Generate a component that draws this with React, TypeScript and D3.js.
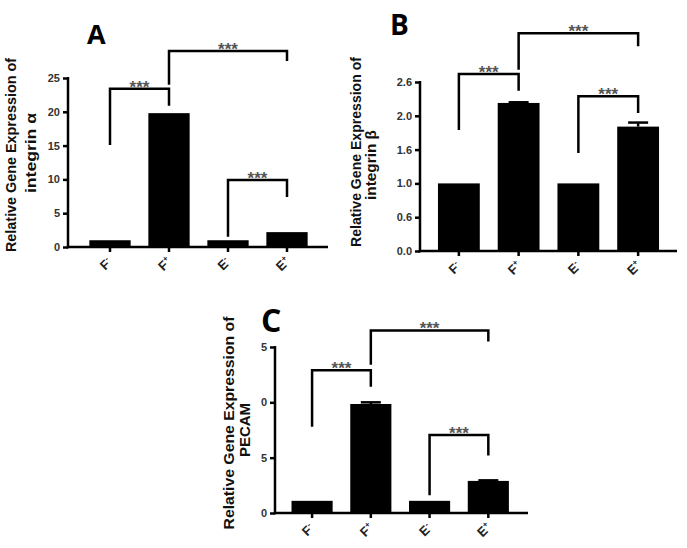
import React, { useEffect, useRef } from 'react';
import * as d3 from 'd3';

// categories shared by the three panels
const categories = ['F', 'F', 'E', 'E'];
const superscripts = ['-', '+', '-', '+'];

// panel A: integrin alpha
const alphaValues = [1.0, 19.8, 1.0, 2.2];
const alphaErrors = [0, 0, 0, 0];
const alphaTicks = [0, 5, 10, 15, 20, 25];
const alphaTickLabels = ['0', '5', '10', '15', '20', '25'];
// [fromIndex, toIndex, bracketY, leftLegEnd, rightLegEnd] in data units
const alphaBrackets = [
  [0, 1, 23.4, 15.1, 20.9],
  [1, 3, 29.0, 24.0, 27.5],
  [2, 3, 9.9, 1.5, 7.4],
];

// panel B: integrin beta
const betaValues = [1.0, 2.19, 1.0, 1.84];
const betaErrors = [0, 0.01, 0, 0.06];
const betaTicks = [0, 0.5, 1.0, 1.5, 2.0, 2.5];
const betaTickLabels = ['0.0', '0.6', '1.0', '1.6', '2.0', '2.6'];
const betaBrackets = [
  [0, 1, 2.62, 1.79, 2.37],
  [1, 3, 3.22, 2.68, 3.03],
  [2, 3, 2.29, 1.45, 2.04],
];

// panel C: PECAM
const pecamValues = [1.1, 9.85, 1.1, 2.9];
const pecamErrors = [0, 0.15, 0, 0.05];
const pecamTicks = [0, 5, 10, 15];
const pecamTickLabels = ['0', '5', '0', '5'];
const pecamBrackets = [
  [0, 1, 12.9, 7.8, 11.4],
  [1, 3, 16.5, 13.4, 15.5],
  [2, 3, 7.05, 1.6, 5.2],
];

const FONT = '"Liberation Sans", Arial, sans-serif';
const NARROW = '"Liberation Sans Narrow", "Liberation Sans", Arial, sans-serif';
const LETTER_FONT = '"Open Sans", "Liberation Sans", sans-serif';

type Title = { x: number; y: number; size: number; len: number; text: string };

type PanelCfg = {
  letter: string;
  letterX: number;
  letterY: number;
  letterSize: number;
  values: number[];
  errors: number[];
  ticks: number[];
  tickLabels: string[];
  brackets: number[][];
  domainMax: number;
  axisX: number;
  axisEnd: number;
  band: [number, number];
  yRange: [number, number];
  title1: Title;
  title2: Title;
};

const panels: PanelCfg[] = [
  {
    letter: 'A', letterX: 87, letterY: 44, letterSize: 27,
    values: alphaValues, errors: alphaErrors, ticks: alphaTicks, tickLabels: alphaTickLabels,
    brackets: alphaBrackets, domainMax: 25,
    axisX: 68, axisEnd: 328, band: [80.5, 316.5], yRange: [247, 78],
    title1: { x: 16, y: 155, size: 14, len: 194, text: 'Relative Gene Expression of' },
    title2: { x: 36, y: 153, size: 15, len: 80, text: 'integrin α' },
  },
  {
    letter: 'B', letterX: 390, letterY: 35, letterSize: 28,
    values: betaValues, errors: betaErrors, ticks: betaTicks, tickLabels: betaTickLabels,
    brackets: betaBrackets, domainMax: 2.5,
    axisX: 420, axisEnd: 677, band: [429, 668], yRange: [251, 82],
    title1: { x: 361, y: 152, size: 14, len: 190, text: 'Relative Gene Expression of' },
    title2: { x: 376, y: 165, size: 14, len: 70, text: 'integrin β' },
  },
  {
    letter: 'C', letterX: 261, letterY: 332, letterSize: 32,
    values: pecamValues, errors: pecamErrors, ticks: pecamTicks, tickLabels: pecamTickLabels,
    brackets: pecamBrackets, domainMax: 15,
    axisX: 275, axisEnd: 528, band: [282.7, 517.7], yRange: [513, 347],
    title1: { x: 234, y: 423, size: 15, len: 213, text: 'Relative Gene Expression of' },
    title2: { x: 250, y: 430, size: 15, len: 54, text: 'PECAM' },
  },
];

const App = () => {
  const svgRef = useRef<SVGSVGElement>(null);

  useEffect(() => {
    const svg = d3.select(svgRef.current);
    svg.selectAll('*').remove();

    panels.forEach(p => {
      const g = svg.append('g');

      const x = d3.scaleBand<number>()
        .domain(d3.range(categories.length))
        .range(p.band)
        .paddingInner(0.3)
        .paddingOuter(0.15);

      const y = d3.scaleLinear().domain([0, p.domainMax]).range(p.yRange);
      const y0 = y(0);

      // bars
      g.selectAll('.bar')
        .data(p.values)
        .join('rect')
        .attr('x', (_, i) => x(i)!)
        .attr('width', x.bandwidth())
        .attr('y', d => y(d))
        .attr('height', d => y0 - y(d))
        .attr('fill', '#000');

      // error bars
      p.values.forEach((v, i) => {
        if (!p.errors[i]) return;
        const cx = x(i)! + x.bandwidth() / 2;
        g.append('line')
          .attr('x1', cx).attr('x2', cx)
          .attr('y1', y(v)).attr('y2', y(v + p.errors[i]))
          .attr('stroke', '#000').attr('stroke-width', 2.5);
        g.append('line')
          .attr('x1', cx - 10).attr('x2', cx + 10)
          .attr('y1', y(v + p.errors[i])).attr('y2', y(v + p.errors[i]))
          .attr('stroke', '#000').attr('stroke-width', 2.5);
      });

      // y axis
      const yAxis = d3.axisLeft(y)
        .tickValues(p.ticks)
        .tickSize(5)
        .tickPadding(3)
        .tickFormat((_, i) => p.tickLabels[i]);
      g.append('g')
        .attr('transform', `translate(${p.axisX},0)`)
        .call(yAxis)
        .call(a => a.select('.domain').remove())
        .call(a => a.selectAll('.tick line').attr('stroke', '#000').attr('stroke-width', 2.5))
        .call(a => a.selectAll('.tick text')
          .attr('font-family', FONT)
          .attr('font-weight', 'bold')
          .attr('font-size', 11)
          .attr('fill', '#333'));

      g.append('line')
        .attr('x1', p.axisX).attr('x2', p.axisX)
        .attr('y1', y(p.domainMax) - 1).attr('y2', y0 + 1.25)
        .attr('stroke', '#000').attr('stroke-width', 2.5);

      // x axis
      g.append('line')
        .attr('x1', p.axisX - 1.25).attr('x2', p.axisEnd)
        .attr('y1', y0).attr('y2', y0)
        .attr('stroke', '#000').attr('stroke-width', 2.5);

      categories.forEach((c, i) => {
        const cx = x(i)! + x.bandwidth() / 2;
        g.append('line')
          .attr('x1', cx).attr('x2', cx)
          .attr('y1', y0).attr('y2', y0 + 5)
          .attr('stroke', '#000').attr('stroke-width', 2.5);
        const t = g.append('text')
          .attr('transform', `translate(${cx - 1},${y0 + 20}) rotate(-45)`)
          .attr('text-anchor', 'middle')
          .attr('font-family', FONT)
          .attr('font-weight', 'bold')
          .attr('font-size', 13)
          .attr('fill', '#222');
        t.append('tspan').text(c);
        t.append('tspan').attr('dy', -5).attr('font-size', 8).text(superscripts[i]);
      });

      // significance brackets
      p.brackets.forEach(([a, b, by, l, r]) => {
        const xa = x(a)! + x.bandwidth() / 2;
        const xb = x(b)! + x.bandwidth() / 2;
        const path = d3.path();
        path.moveTo(xa, y(l));
        path.lineTo(xa, y(by));
        path.lineTo(xb, y(by));
        path.lineTo(xb, y(r));
        g.append('path')
          .attr('d', path.toString())
          .attr('fill', 'none')
          .attr('stroke', '#000')
          .attr('stroke-width', 2.5)
          .attr('stroke-linejoin', 'miter');
        g.append('text')
          .attr('x', (xa + xb) / 2)
          .attr('y', y(by) + 4)
          .attr('text-anchor', 'middle')
          .attr('font-family', FONT)
          .attr('font-weight', 'bold')
          .attr('font-size', 17)
          .attr('fill', '#555')
          .text('***');
      });

      // panel letter
      g.append('text')
        .attr('x', p.letterX)
        .attr('y', p.letterY)
        .attr('font-family', LETTER_FONT)
        .attr('font-weight', 700)
        .attr('font-size', p.letterSize)
        .attr('fill', '#000')
        .text(p.letter);

      // y titles
      [p.title1, p.title2].forEach(tt => {
        g.append('text')
          .attr('transform', `translate(${tt.x},${tt.y}) rotate(-90)`)
          .attr('text-anchor', 'middle')
          .attr('font-family', NARROW)
          .attr('font-weight', 'bold')
          .attr('font-size', tt.size)
          .attr('textLength', tt.len)
          .attr('lengthAdjust', 'spacingAndGlyphs')
          .attr('fill', '#111')
          .text(tt.text);
      });
    });
  }, []);

  return (
    <div style={{ position: 'absolute', left: 0, top: 0, width: 687, height: 548, background: '#fff' }}>
      <svg ref={svgRef} width={687} height={548}></svg>
    </div>
  );
};

export default App;
